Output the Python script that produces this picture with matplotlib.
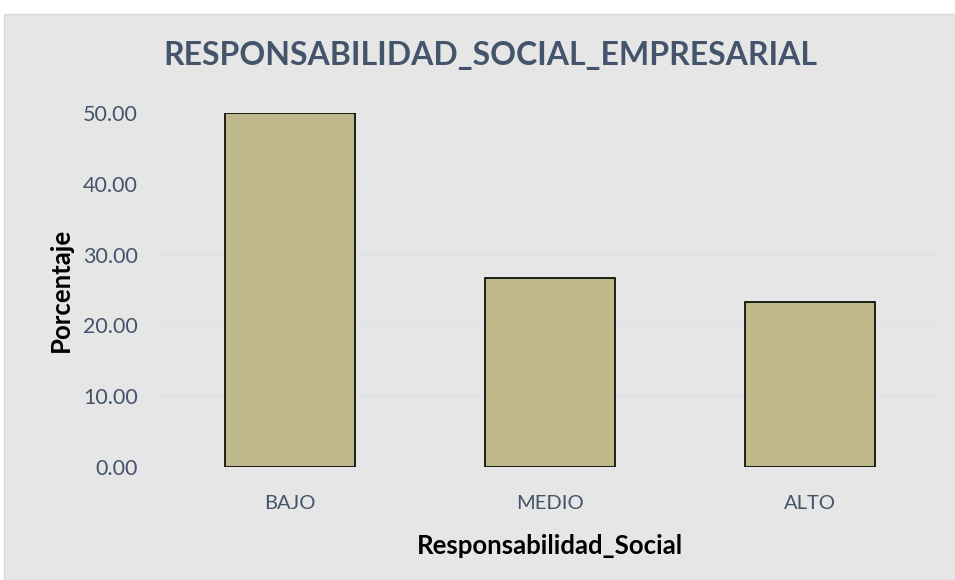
import matplotlib
matplotlib.use("Agg")
import matplotlib.pyplot as plt
from matplotlib.patches import Rectangle

categories = ["BAJO", "MEDIO", "ALTO"]
values = [50.00, 26.67, 23.33]
yticks = [0, 10, 20, 30, 40, 50]

plt.rcParams['font.family'] = ['Lato', 'DejaVu Sans']

fig = plt.figure(figsize=(9.55, 5.8), dpi=100, facecolor='white')
bg = Rectangle((4/955, 0), 1 - 4/955, 1 - 14/580, transform=fig.transFigure,
               facecolor='#E7E6E6', edgecolor='#D9D9D9', linewidth=1, zorder=-10)
fig.patches.append(bg)

ax = fig.add_axes([160/955, 1 - 467/580, 780/955, 354/580])
ax.set_zorder(5)
ax.set_facecolor('none')
x = range(len(categories))
ax.bar(x, values, width=0.5, color='#BFB88A', edgecolor='black', linewidth=1.2, zorder=3)
ax.set_xlim(-0.5, 2.5)
ax.set_ylim(0, 50)
ax.set_yticks(yticks)
ax.set_yticklabels([f"{v:.2f}" for v in yticks])
ax.set_xticks(list(x))
ax.set_xticklabels(categories)
ax.tick_params(axis='y', length=0, labelsize=15.5, labelcolor='#44546A', pad=16)
ax.tick_params(axis='x', length=0, labelsize=14.5, labelcolor='#44546A', pad=20)
ax.grid(axis='y', color='#DCE3EA', linewidth=1.2, zorder=0)
for s in ax.spines.values():
    s.set_visible(False)
ax.set_ylabel("Porcentaje", fontsize=18.5, fontweight='bold', color='black', labelpad=7)
ax.set_xlabel("Responsabilidad_Social", fontsize=18.5, fontweight='bold', color='black', labelpad=16)
fig.text(490/955, 1 - 56/580, "RESPONSABILIDAD_SOCIAL_EMPRESARIAL", ha='center', va='center',
         fontsize=23, fontweight='bold', color='#44546A', zorder=6)

fig.savefig("out.png", dpi=100, facecolor=fig.get_facecolor())
